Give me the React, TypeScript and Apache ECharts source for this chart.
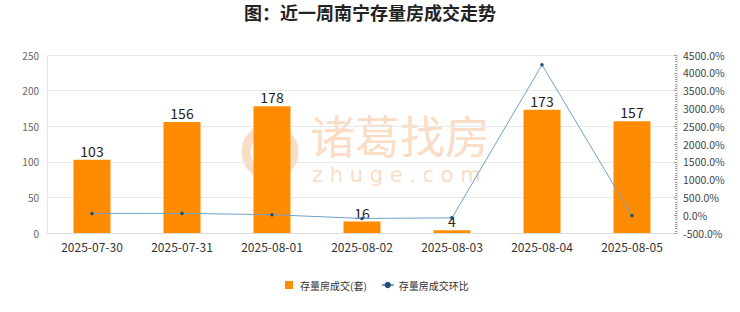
import React, { useEffect, useRef } from "react";
import * as echarts from "echarts";

const categories = ["2025-07-30", "2025-07-31", "2025-08-01", "2025-08-02", "2025-08-03", "2025-08-04", "2025-08-05"];
const deals = [103, 156, 178, 16, 4, 173, 157];
const ratio = [50, 51.5, 14.1, -91.0, -75.0, 4225.0, -9.2];
const leftTicks = { min: 0, max: 250, interval: 50 };
const rightTicks = { min: -500, max: 4500, interval: 500 };

export default function App() {
  const ref = useRef<HTMLDivElement>(null);
  useEffect(() => {
    if (!ref.current) return;
    const chart = echarts.init(ref.current, undefined, { renderer: "svg" });
    const font = "'Noto Sans CJK SC', 'Noto Sans', sans-serif";
    const wm = "#FADDC6";
    chart.setOption({
      animation: false,
      textStyle: { fontFamily: font },
      title: {
        text: "图：近一周南宁存量房成交走势",
        left: "center",
        top: -2,
        textStyle: { fontSize: 18, fontWeight: "bold", color: "#222", fontFamily: font },
      },
      graphic: [
        {
          type: "text",
          left: 310,
          top: 112,
          z: 0,
          style: {
            text: "{a|诸葛找房}\n{b|z h u g e . c o m}",
            fill: wm,
            rich: {
              a: { fontSize: 45, lineHeight: 58, fill: wm, fontFamily: font },
              b: { fontSize: 21, lineHeight: 22, fill: wm, fontFamily: "'DejaVu Sans', sans-serif", padding: [0, 0, 0, 2] },
            },
          },
        },
        {
          type: "arc",
          z: 0,
          shape: { cx: 270, cy: 152, r: 24, startAngle: Math.PI * 0.55, endAngle: Math.PI * 1.45 },
          style: { stroke: wm, lineWidth: 9, fill: "none" },
        },
        {
          type: "arc",
          z: 0,
          shape: { cx: 270, cy: 152, r: 24, startAngle: -Math.PI * 0.45, endAngle: Math.PI * 0.45 },
          style: { stroke: wm, lineWidth: 9, fill: "none" },
        },
      ],
      legend: {
        top: 275,
        left: 280,
        itemWidth: 12,
        itemHeight: 8,
        itemGap: 14,
        symbolKeepAspect: true,
        textStyle: { fontSize: 10, color: "#333", fontFamily: font },
        data: [
          { name: "存量房成交(套)", icon: "path://M0,0h10v10h-10z" },
          { name: "存量房成交环比" },
        ],
      },
      grid: { left: 47, right: 63, top: 55, bottom: 79 },
      xAxis: {
        type: "category",
        data: categories,
        axisLine: { lineStyle: { color: "#ddd" } },
        axisTick: { show: false },
        axisLabel: { color: "#333", fontSize: 12, margin: 7 },
      },
      yAxis: [
        {
          type: "value",
          ...leftTicks,
          axisLine: { show: true, lineStyle: { color: "#e6e6e6" } },
          axisTick: { show: false },
          axisLabel: { color: "#666", fontSize: 10, margin: 8 },
          splitLine: { lineStyle: { color: "#e8e8e8" } },
        },
        {
          type: "value",
          ...rightTicks,
          position: "right",
          axisLine: { show: true, lineStyle: { color: "#e6e6e6" } },
          axisTick: { show: true, length: 3, inside: true, lineStyle: { color: "#999" } },
          minorTick: { show: true, splitNumber: 8, length: 2, lineStyle: { color: "#999" } },
          axisLabel: { color: "#444", fontSize: 10.5, margin: 6, formatter: (v: number) => v.toFixed(1) + "%" },
          splitLine: { show: false },
        },
      ],
      series: [
        {
          name: "存量房成交(套)",
          type: "bar",
          data: deals,
          barWidth: 37,
          z: 2,
          itemStyle: { color: "#FF8C00" },
          label: { show: true, position: "top", fontSize: 14, color: "#222", distance: 2 },
        },
        {
          name: "存量房成交环比",
          type: "line",
          yAxisIndex: 1,
          data: ratio,
          symbol: "circle",
          symbolSize: 3.5,
          lineStyle: { color: "#6FA0D0", width: 1 },
          itemStyle: { color: "#1F4E79" },
          z: 5,
        },
      ],
    });
    return () => chart.dispose();
  }, []);
  return <div ref={ref} style={{ position: "absolute", left: 0, top: 0, width: 740, height: 312 }} />;
}
